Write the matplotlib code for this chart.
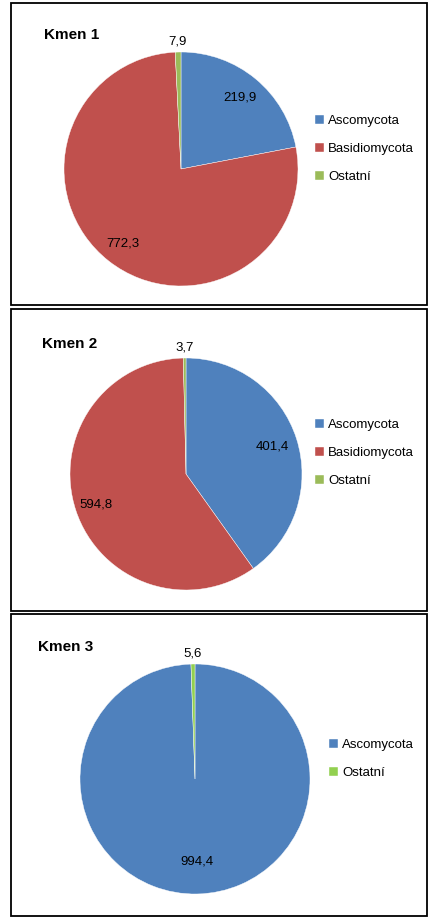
import numpy as np
import matplotlib.pyplot as plt
from matplotlib.patches import Rectangle

plt.rcParams['font.family'] = ['Liberation Sans', 'DejaVu Sans']

# Data
titles = ['Kmen 1', 'Kmen 2', 'Kmen 3']
labels_1 = ['Ascomycota', 'Basidiomycota', 'Ostatní']
values_1 = [219.9, 772.3, 7.9]
labels_2 = ['Ascomycota', 'Basidiomycota', 'Ostatní']
values_2 = [401.4, 594.8, 3.7]
labels_3 = ['Ascomycota', 'Ostatní']
values_3 = [994.4, 5.6]

colors_1 = ['#4F81BD', '#C0504D', '#9BBB59']
colors_2 = ['#4F81BD', '#C0504D', '#9BBB59']
colors_3 = ['#4F81BD', '#92D050']

W, H = 437, 922
fig = plt.figure(figsize=(W / 100, H / 100), dpi=100)


def fx(px):
    return px / W


def fy(py):
    return 1 - py / H


# layout for each panel (pixels): border box, pie centre, radius, title pos, legend pos
panels = [
    dict(title=titles[0], labels=labels_1, values=values_1, colors=colors_1,
         box=(11, 3, 427, 305), center=(181, 169), r=117, tpos=(44, 35),
         leg=(315, 115), dist=[0.79, 0.81, 1.09]),
    dict(title=titles[1], labels=labels_2, values=values_2, colors=colors_2,
         box=(11, 309, 427, 611), center=(186, 474), r=116, tpos=(42, 344),
         leg=(315, 419), dist=[0.78, 0.82, 1.09]),
    dict(title=titles[2], labels=labels_3, values=values_3, colors=colors_3,
         box=(11, 614, 427, 916), center=(195, 779), r=115, tpos=(38, 647),
         leg=(329, 739), dist=[0.72, 1.09]),
]

for p in panels:
    x0, y0, x1, y1 = p['box']
    fig.patches.append(Rectangle((fx(x0), fy(y1)), fx(x1) - fx(x0), fy(y0) - fy(y1),
                                 transform=fig.transFigure, fill=False,
                                 edgecolor='black', linewidth=1.3))
    fig.text(fx(p['tpos'][0]), fy(p['tpos'][1]), p['title'], fontsize=11,
             fontweight='bold', va='center', ha='left')

    cx, cy = p['center']
    r = p['r']
    ax = fig.add_axes([fx(cx - r), fy(cy + r), 2 * r / W, 2 * r / H])
    wedges, _ = ax.pie(p['values'], colors=p['colors'], startangle=90,
                       counterclock=False, radius=1,
                       wedgeprops=dict(linewidth=0.3, edgecolor='white'))
    ax.set_xlim(-1, 1)
    ax.set_ylim(-1, 1)
    ax.axis('off')

    # value labels
    for w, v, d in zip(wedges, p['values'], p['dist']):
        ang = np.deg2rad((w.theta1 + w.theta2) / 2)
        ax.text(d * np.cos(ang), d * np.sin(ang), f'{v:.1f}'.replace('.', ','),
                ha='center', va='center', fontsize=9.5)

    ax.legend(wedges, p['labels'], loc='upper left',
              bbox_to_anchor=(fx(p['leg'][0]), fy(p['leg'][1])),
              bbox_transform=fig.transFigure, frameon=False, fontsize=9.5,
              handlelength=0.7, handleheight=0.7, handletextpad=0.3,
              labelspacing=1.18, borderpad=0, borderaxespad=0)

fig.savefig('out.png', dpi=100, facecolor='white')
